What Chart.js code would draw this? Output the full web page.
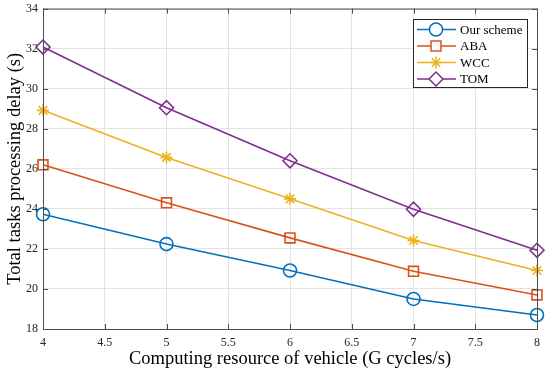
<!DOCTYPE html>
<html>
<head>
<meta charset="utf-8">
<script src="https://cdn.jsdelivr.net/npm/chart.js@4.4.0/dist/chart.umd.min.js"></script>
<style>
  html, body { margin: 0; padding: 0; background: #fff; }
  #wrap { width: 550px; height: 374px; }
</style>
</head>
<body>
<div id="wrap"><canvas id="chartbox"></canvas></div>
<script>
// data
const xVals = [4, 5, 6, 7, 8]
const seriesNames = ['Our scheme', 'ABA', 'WCC', 'TOM']
const ourScheme = [23.73, 22.24, 20.92, 19.5, 18.7]
const aba = [26.2, 24.3, 22.55, 20.88, 19.7]
const wcc = [28.92, 26.57, 24.5, 22.42, 20.92]
const tom = [32.08, 29.05, 26.4, 23.98, 21.93]
const xTicks = [4, 4.5, 5, 5.5, 6, 6.5, 7, 7.5, 8]
const yTicks = [18, 20, 22, 24, 26, 28, 30, 32, 34]

const colors = ['#0072BD', '#D95319', '#EDB120', '#7E2F8E']
const markers = ['circle', 'rect', 'star', 'rectRot']
const radii = [6.5, 7, 6, 7]
const values = [ourScheme, aba, wcc, tom]

const font = 'Liberation Serif, Times New Roman, serif'
const axisColor = '#4d4d4d'

// box round the axes and inward ticks, like matlab
const boxPlugin = {
  id: 'box',
  afterDatasetsDraw(chart) {
    const { ctx, chartArea: a, scales } = chart
    ctx.save()
    ctx.strokeStyle = axisColor
    ctx.lineWidth = 1
    ctx.strokeRect(a.left + 0.5, a.top + 0.5, a.right - a.left, a.bottom - a.top)
    const t = 5
    ctx.beginPath()
    xTicks.forEach(v => {
      const px = Math.round(scales.x.getPixelForValue(v)) + 0.5
      ctx.moveTo(px, a.bottom); ctx.lineTo(px, a.bottom - t)
      ctx.moveTo(px, a.top); ctx.lineTo(px, a.top + t)
    })
    yTicks.forEach(v => {
      const py = Math.round(scales.y.getPixelForValue(v)) + 0.5
      ctx.moveTo(a.left, py); ctx.lineTo(a.left + t, py)
      ctx.moveTo(a.right, py); ctx.lineTo(a.right - t, py)
    })
    ctx.stroke()
    ctx.restore()
  }
}

// legend box in the upper right corner
const legendPlugin = {
  id: 'boxLegend',
  afterDraw(chart) {
    const { ctx } = chart
    const left = 413.5, top = 19.5, w = 114, h = 68
    ctx.save()
    ctx.fillStyle = '#fff'
    ctx.fillRect(left, top, w, h)
    ctx.strokeStyle = '#262626'
    ctx.lineWidth = 1
    ctx.strokeRect(left, top, w, h)
    ctx.font = '13px ' + font
    ctx.textBaseline = 'middle'
    seriesNames.forEach((name, i) => {
      const y = 29.5 + i * 16.5
      ctx.strokeStyle = colors[i]
      ctx.lineWidth = 1.5
      ctx.beginPath()
      ctx.moveTo(417, y); ctx.lineTo(456, y)
      ctx.stroke()
      ctx.fillStyle = '#fff'
      Chart.helpers.drawPoint(ctx, { pointStyle: markers[i], radius: radii[i], rotation: 0, borderWidth: 1.5 }, 436, y)
      ctx.fillStyle = '#000'
      ctx.fillText(name, 460, y + 1)
    })
    ctx.restore()
  }
}

new Chart(document.querySelector('#chartbox'), {
  type: 'line',
  data: {
    datasets: seriesNames.map((name, i) => ({
      label: name,
      data: xVals.map((x, j) => ({ x, y: values[i][j] })),
      borderColor: colors[i],
      backgroundColor: 'rgba(0,0,0,0)',
      borderWidth: 1.6,
      pointStyle: markers[i],
      pointRadius: radii[i],
      pointBorderWidth: 1.6,
      pointBorderColor: colors[i],
      pointBackgroundColor: 'rgba(0,0,0,0)',
      tension: 0,
      clip: false
    }))
  },
  options: {
    responsive: true,
    maintainAspectRatio: false,
    animation: false,
    layout: { padding: { top: 8, right: 13, left: 0, bottom: 0 } },
    plugins: {
      legend: { display: false },
      tooltip: { enabled: false }
    },
    scales: {
      x: {
        type: 'linear',
        min: 4, max: 8,
        afterBuildTicks(s) { s.ticks = xTicks.map(v => ({ value: v })) },
        afterFit(s) { s.height = 45; s.paddingLeft = 0; s.paddingRight = 0 },
        grid: { color: '#e3e3e3', drawTicks: false },
        border: { display: false },
        ticks: {
          color: '#262626',
          padding: 7,
          font: { family: font, size: 12 },
          maxRotation: 0,
          callback: v => String(v)
        },
        title: {
          display: true,
          text: 'Computing resource of vehicle (G cycles/s)',
          color: '#000',
          font: { family: font, size: 18.5 },
          padding: { top: 0, bottom: 4 }
        }
      },
      y: {
        min: 18, max: 34,
        afterBuildTicks(s) { s.ticks = yTicks.map(v => ({ value: v })) },
        afterFit(s) { s.width = 43; s.paddingTop = 0; s.paddingBottom = 0 },
        grid: { color: '#e3e3e3', drawTicks: false },
        border: { display: false },
        ticks: {
          color: '#262626',
          padding: 5,
          font: { family: font, size: 12 }
        },
        title: {
          display: true,
          text: 'Total tasks processing delay (s)',
          color: '#000',
          font: { family: font, size: 18.5 },
          padding: { top: 4, bottom: 0 }
        }
      }
    }
  },
  plugins: [boxPlugin, legendPlugin]
})
</script>
</body>
</html>
